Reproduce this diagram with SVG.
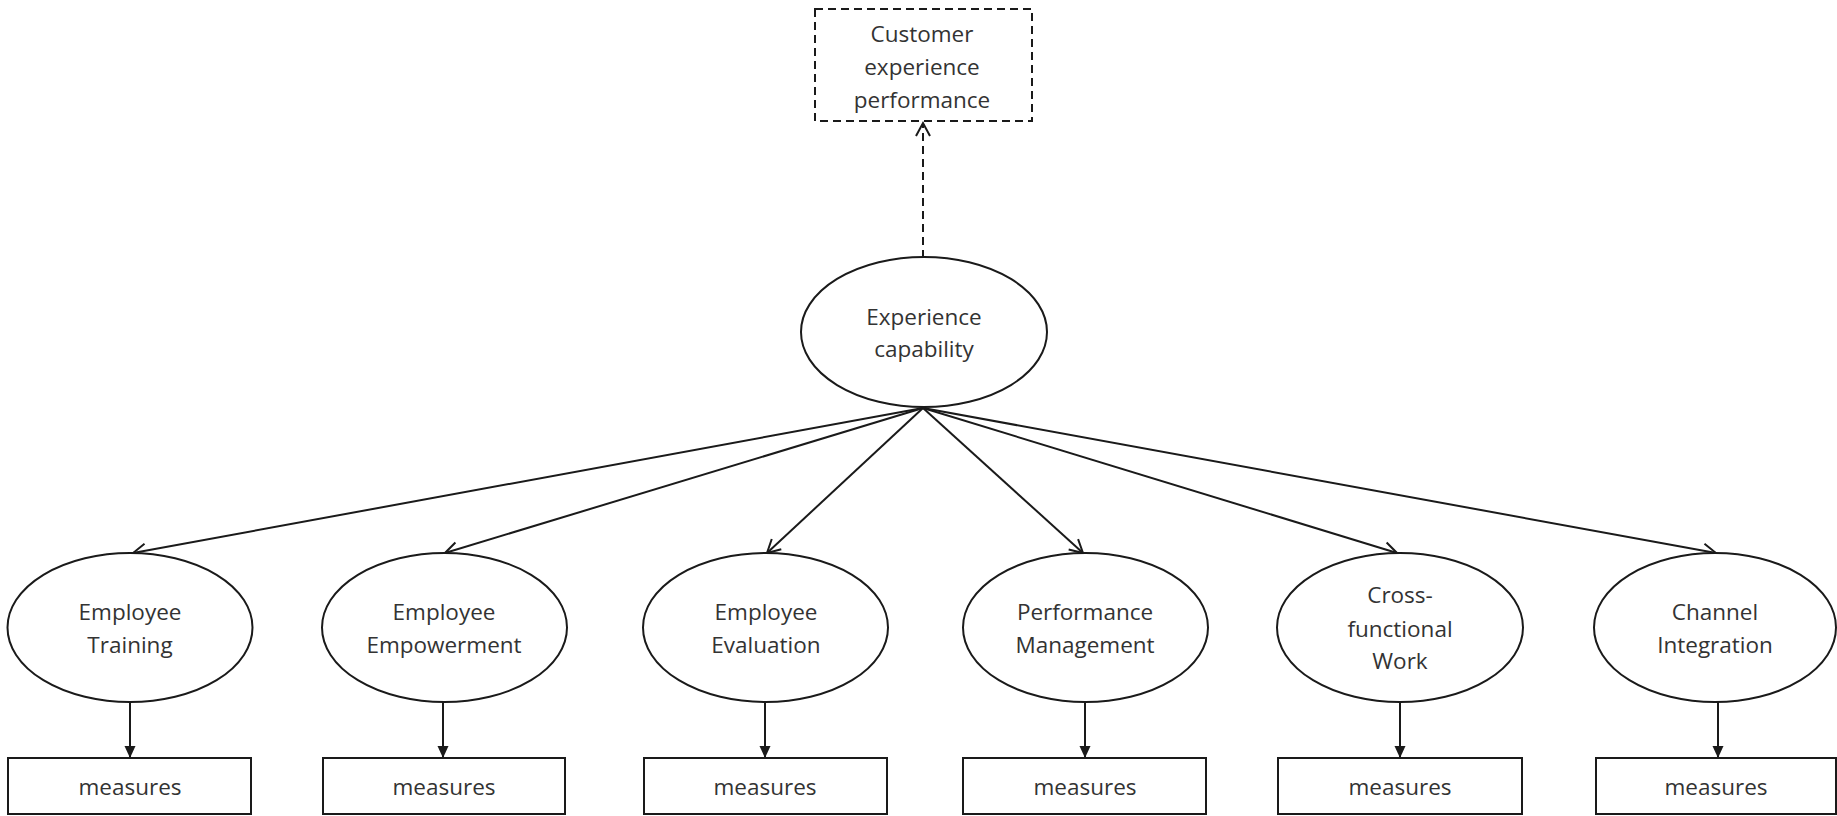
<svg xmlns="http://www.w3.org/2000/svg" width="1837" height="816" viewBox="0 0 1837 816">
<style>
.n{fill:#fff;stroke:#1a1a1a;stroke-width:2}
.t{font-family:"Open Sans","Liberation Sans",sans-serif;font-size:22.5px;fill:#333;text-anchor:middle}
.c{stroke:#1a1a1a;stroke-width:2;fill:none}
.d{stroke-dasharray:8 5}
</style>
<defs>
<marker id="open" markerUnits="userSpaceOnUse" markerWidth="18" markerHeight="18" viewBox="0 0 18 18" refX="15" refY="9" orient="auto">
<path d="M2,2 L15,9 L2,16" fill="none" stroke="#1a1a1a" stroke-width="2"/>
</marker>
<marker id="fill" markerUnits="userSpaceOnUse" markerWidth="12" markerHeight="12" viewBox="0 0 12 12" refX="12" refY="6" orient="auto">
<path d="M0,0.5 L12,6 L0,11.5 Z" fill="#1a1a1a"/>
</marker>
</defs>
<rect width="1837" height="816" fill="#fff"/>
<g id="connectors">
<line class="c d" x1="923" y1="258" x2="923" y2="123" marker-end="url(#open)"/>
<line class="c" x1="923" y1="408" x2="133" y2="553" marker-end="url(#open)"/>
<line class="c" x1="923" y1="408" x2="445" y2="553" marker-end="url(#open)"/>
<line class="c" x1="923" y1="408" x2="767" y2="553" marker-end="url(#open)"/>
<line class="c" x1="923" y1="408" x2="1083" y2="553" marker-end="url(#open)"/>
<line class="c" x1="923" y1="408" x2="1397" y2="553" marker-end="url(#open)"/>
<line class="c" x1="923" y1="408" x2="1716" y2="553" marker-end="url(#open)"/>
<line class="c" x1="130" y1="702" x2="130" y2="758" marker-end="url(#fill)"/>
<line class="c" x1="443" y1="702" x2="443" y2="758" marker-end="url(#fill)"/>
<line class="c" x1="765" y1="702" x2="765" y2="758" marker-end="url(#fill)"/>
<line class="c" x1="1085" y1="702" x2="1085" y2="758" marker-end="url(#fill)"/>
<line class="c" x1="1400" y1="702" x2="1400" y2="758" marker-end="url(#fill)"/>
<line class="c" x1="1718" y1="702" x2="1718" y2="758" marker-end="url(#fill)"/>
</g>
<g id="cxp">
<rect class="n d" x="815" y="9" width="217" height="112"/>
<text class="t" x="922" y="42">Customer</text>
<text class="t" x="922" y="75">experience</text>
<text class="t" x="922" y="108">performance</text>
</g>
<g id="capability">
<ellipse class="n" cx="924" cy="332" rx="123" ry="75"/>
<text class="t" x="924" y="325">Experience</text>
<text class="t" x="924" y="357">capability</text>
</g>
<g id="training">
<ellipse class="n" cx="130" cy="627.5" rx="122.5" ry="74.5"/>
<text class="t" x="130" y="620">Employee</text>
<text class="t" x="130" y="653">Training</text>
</g>
<g id="empowerment">
<ellipse class="n" cx="444.5" cy="627.5" rx="122.5" ry="74.5"/>
<text class="t" x="444" y="620">Employee</text>
<text class="t" x="444" y="653">Empowerment</text>
</g>
<g id="evaluation">
<ellipse class="n" cx="765.5" cy="627.5" rx="122.5" ry="74.5"/>
<text class="t" x="766" y="620">Employee</text>
<text class="t" x="766" y="653">Evaluation</text>
</g>
<g id="performance">
<ellipse class="n" cx="1085.5" cy="627.5" rx="122.5" ry="74.5"/>
<text class="t" x="1085" y="620">Performance</text>
<text class="t" x="1085" y="653">Management</text>
</g>
<g id="crossfunctional">
<ellipse class="n" cx="1400" cy="627.5" rx="123" ry="74.5"/>
<text class="t" x="1400" y="603">Cross-</text>
<text class="t" x="1400" y="637">functional</text>
<text class="t" x="1400" y="669">Work</text>
</g>
<g id="channel">
<ellipse class="n" cx="1715" cy="627.5" rx="121" ry="74.5"/>
<text class="t" x="1715" y="620">Channel</text>
<text class="t" x="1715" y="653">Integration</text>
</g>
<g id="m1"><rect class="n" x="8" y="758" width="243" height="56"/><text class="t" x="130" y="795">measures</text></g>
<g id="m2"><rect class="n" x="323" y="758" width="242" height="56"/><text class="t" x="444" y="795">measures</text></g>
<g id="m3"><rect class="n" x="644" y="758" width="243" height="56"/><text class="t" x="765" y="795">measures</text></g>
<g id="m4"><rect class="n" x="963" y="758" width="243" height="56"/><text class="t" x="1085" y="795">measures</text></g>
<g id="m5"><rect class="n" x="1278" y="758" width="244" height="56"/><text class="t" x="1400" y="795">measures</text></g>
<g id="m6"><rect class="n" x="1596" y="758" width="240" height="56"/><text class="t" x="1716" y="795">measures</text></g>
</svg>
